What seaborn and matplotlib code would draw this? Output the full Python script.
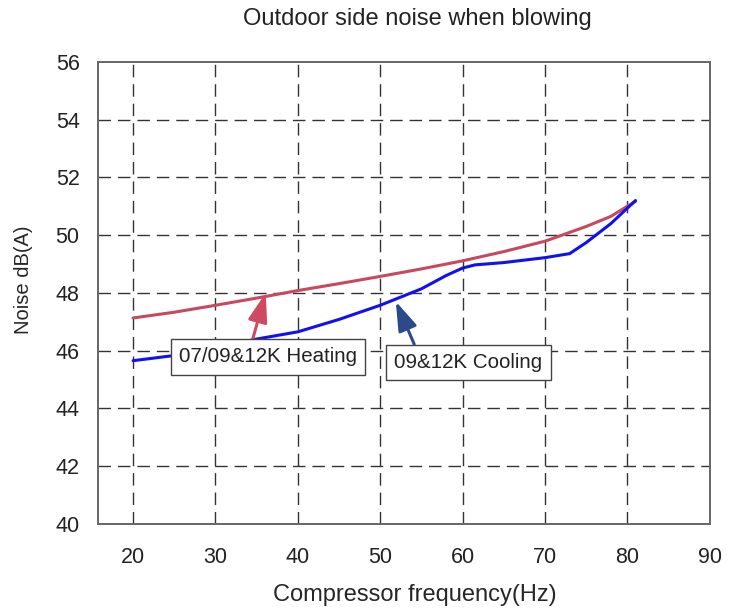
import pandas as pd
import seaborn as sns
import matplotlib.pyplot as plt

# Werte
freq_heat = [20, 25, 30, 35, 40, 45, 50, 55, 60, 65, 70, 75, 78, 80, 81]
noise_heat = [47.13, 47.33, 47.57, 47.82, 48.08, 48.32, 48.57, 48.83, 49.11, 49.43, 49.79, 50.3, 50.65, 51.0, 51.17]

freq_cool = [20, 25, 30, 35, 40, 45, 50, 55, 58, 60, 61.5, 65, 70, 73, 75, 78, 81]
noise_cool = [45.65, 45.83, 46.08, 46.4, 46.65, 47.08, 47.57, 48.14, 48.6, 48.86, 48.97, 49.05, 49.22, 49.36, 49.74, 50.4, 51.2]

x_ticks = [20, 30, 40, 50, 60, 70, 80, 90]
y_ticks = [40, 42, 44, 46, 48, 50, 52, 54, 56]

df = pd.concat([
    pd.DataFrame({'freq': freq_heat, 'noise': noise_heat, 'mode': '07/09&12K Heating'}),
    pd.DataFrame({'freq': freq_cool, 'noise': noise_cool, 'mode': '09&12K Cooling'}),
])

sns.set_style('white')
plt.rcParams['font.family'] = ['Liberation Sans', 'DejaVu Sans']
plt.rcParams['text.color'] = '#222222'

fig = plt.figure(figsize=(7.4, 6.14), dpi=100)
ax = fig.add_axes([0.132, 0.147, 0.827, 0.752])

farben = {'07/09&12K Heating': '#c8485e', '09&12K Cooling': '#1010f0'}
sns.lineplot(data=df, x='freq', y='noise', hue='mode', palette=farben,
             linewidth=2.2, legend=False, ax=ax, zorder=3)

ax.set_xlim(15.7, 90)
ax.set_ylim(40, 56)
ax.set_xticks(x_ticks)
ax.set_yticks(y_ticks)
ax.tick_params(labelsize=15.5, length=4, direction='in', colors='#222222')
ax.tick_params(axis='x', pad=17)
ax.tick_params(axis='y', pad=13)
for s in ax.spines.values():
    s.set_color('#666666')
    s.set_linewidth(1.4)

# gestricheltes Gitter, nur innen
for xv in x_ticks[:-1]:
    ax.axvline(xv, color='#333333', lw=1, ls=(0, (9, 5)), zorder=1)
for yv in y_ticks[1:-1]:
    ax.axhline(yv, color='#333333', lw=1, ls=(0, (9, 5)), zorder=1)

fig.text(0.5635, 1 - 19 / 614, 'Outdoor side noise when blowing', fontsize=17,
         ha='center', va='center')
ax.set_xlabel('Compressor frequency(Hz)', fontsize=17)
ax.xaxis.label.set_va('center')
ax.xaxis.set_label_coords(0.518, -0.154)
ax.set_ylabel('Noise dB(A)', fontsize=14.5)
ax.yaxis.label.set_va('center')
ax.yaxis.set_label_coords(-0.121, 0.528)

boks = dict(boxstyle='square,pad=0.4', fc='white', ec='#444444', lw=1)
pil = '-|>,head_length=1.2,head_width=0.4'
ax.annotate('07/09&12K Heating', xy=(36.1, 48.0), xytext=(36.4, 45.78),
            fontsize=14.8, ha='center', va='center', bbox=boks, zorder=5,
            arrowprops=dict(arrowstyle=pil, color='#d04a5f', lw=2.2,
                            relpos=(0.4, 1.0), shrinkA=0, shrinkB=0))
ax.annotate('09&12K Cooling', xy=(51.9, 47.7), xytext=(60.7, 45.59),
            fontsize=14.8, ha='center', va='center', bbox=boks, zorder=5,
            arrowprops=dict(arrowstyle=pil, color='#2a4a8c', lw=2.2,
                            relpos=(0.16, 1.0), shrinkA=0, shrinkB=0))

fig.savefig('out.png', dpi=100)
